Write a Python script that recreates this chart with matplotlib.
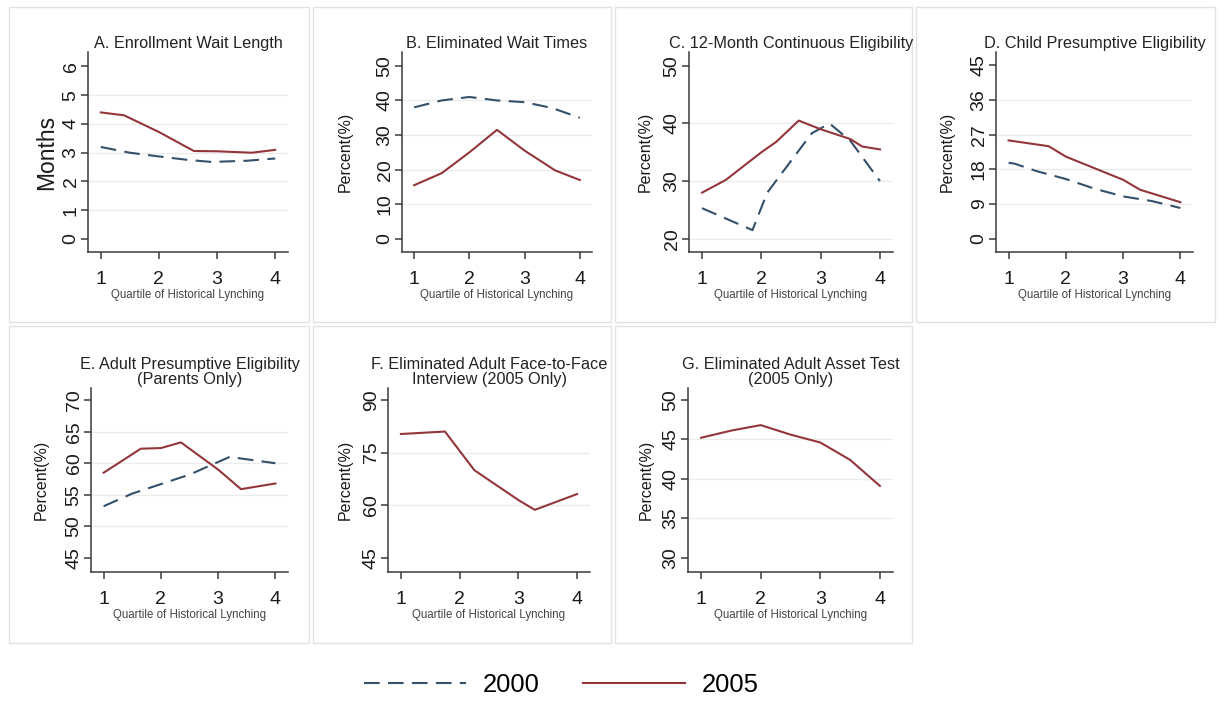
import matplotlib
matplotlib.use("Agg")
import matplotlib.pyplot as plt
from matplotlib.patches import Rectangle
from matplotlib.lines import Line2D

plt.rcParams['font.family'] = ['Liberation Sans', 'DejaVu Sans']

# ---------------- data ----------------
quartile_ticks = [1, 2, 3, 4]
xlabel_text = "Quartile of Historical Lynching"
series_names = ["2000", "2005"]

titles = {
    "A": "A. Enrollment Wait Length",
    "B": "B. Eliminated Wait Times",
    "C": "C. 12-Month Continuous Eligibility",
    "D": "D. Child Presumptive Eligibility",
    "E": "E. Adult Presumptive Eligibility\n(Parents Only)",
    "F": "F. Eliminated Adult Face-to-Face\nInterview (2005 Only)",
    "G": "G. Eliminated Adult Asset Test\n(2005 Only)",
}
ylabels = {"A": "Months", "B": "Percent(%)", "C": "Percent(%)", "D": "Percent(%)",
           "E": "Percent(%)", "F": "Percent(%)", "G": "Percent(%)"}

yticks_A = [0, 1, 2, 3, 4, 5, 6]
yticks_B = [0, 10, 20, 30, 40, 50]
yticks_C = [20, 30, 40, 50]
yticks_D = [0, 9, 18, 27, 36, 45]
yticks_E = [45, 50, 55, 60, 65, 70]
yticks_F = [45, 60, 75, 90]
yticks_G = [30, 35, 40, 45, 50]

grid_A = [1, 2, 3, 4, 5]
grid_B = [10, 20, 30, 40]
grid_C = [20, 30, 40]
grid_D = [9, 18, 27, 36]
grid_E = [50, 55, 60, 65]
grid_F = [60, 75]
grid_G = [35, 40, 45]

# Panel A: enrollment wait length (months)
x2000_A = [1, 1.5, 2, 2.5, 2.9, 3.5, 4]
y2000_A = [3.2, 3.0, 2.87, 2.75, 2.68, 2.72, 2.8]
x2005_A = [1, 1.4, 2.0, 2.6, 3.0, 3.6, 4.0]
y2005_A = [4.4, 4.3, 3.72, 3.06, 3.05, 3.0, 3.1]

# Panel B: eliminated wait times
x2000_B = [1, 1.5, 2, 2.5, 3, 3.5, 4]
y2000_B = [38, 40, 41, 40, 39.5, 37.8, 35]
x2005_B = [1, 1.5, 2, 2.5, 3, 3.55, 4]
y2005_B = [15.5, 19, 25, 31.5, 25.5, 19.8, 17]

# Panel C: 12-month continuous eligibility
x2000_C = [1, 1.85, 2.1, 2.5, 2.85, 3.15, 3.5, 4]
y2000_C = [25.3, 21.5, 28, 33.5, 38.3, 40, 37, 30]
x2005_C = [1, 1.4, 2, 2.25, 2.63, 3, 3.5, 3.7, 4]
y2005_C = [28, 30.2, 35, 36.8, 40.5, 39, 37.3, 36, 35.5]

# Panel D: child presumptive eligibility
x2000_D = [1, 1.1, 1.5, 2, 2.5, 3, 3.5, 4]
y2000_D = [19.7, 19.5, 17.5, 15.5, 13, 11, 9.8, 8]
x2005_D = [1, 1.7, 2, 2.5, 3, 3.3, 4]
y2005_D = [25.5, 24, 21.3, 18.3, 15.3, 12.7, 9.5]

# Panel E: adult presumptive eligibility (parents)
x2000_E = [1, 1.5, 2, 2.5, 3, 3.2, 4]
y2000_E = [53.2, 55.2, 56.7, 58.2, 60.2, 61, 60]
x2005_E = [1, 1.65, 2, 2.35, 3, 3.4, 4]
y2005_E = [58.5, 62.3, 62.4, 63.3, 59, 55.9, 56.8]

# Panel F: eliminated adult face-to-face interview (2005 only)
x2005_F = [1, 1.75, 2.25, 3, 3.28, 4]
y2005_F = [80.3, 81, 70, 61.5, 58.7, 63.2]

# Panel G: eliminated adult asset test (2005 only)
x2005_G = [1, 1.5, 2, 2.5, 3, 3.5, 4]
y2005_G = [45.2, 46.1, 46.8, 45.6, 44.6, 42.4, 39.1]

data = {
    "A": (x2000_A, y2000_A, x2005_A, y2005_A, yticks_A, grid_A),
    "B": (x2000_B, y2000_B, x2005_B, y2005_B, yticks_B, grid_B),
    "C": (x2000_C, y2000_C, x2005_C, y2005_C, yticks_C, grid_C),
    "D": (x2000_D, y2000_D, x2005_D, y2005_D, yticks_D, grid_D),
    "E": (x2000_E, y2000_E, x2005_E, y2005_E, yticks_E, grid_E),
    "F": (None, None, x2005_F, y2005_F, yticks_F, grid_F),
    "G": (None, None, x2005_G, y2005_G, yticks_G, grid_G),
}

# ---------------- layout (pixels) ----------------
W, H = 1225, 717
fig = plt.figure(figsize=(W / 100, H / 100), dpi=100)
fig.patch.set_facecolor("white")

frames = [(9, 309, 7, 322), (313, 611, 7, 322), (615, 912, 7, 322), (916, 1215, 7, 322),
          (9, 309, 326, 643), (313, 611, 326, 643), (615, 912, 326, 643)]
for (l, r, t, b) in frames:
    fig.patches.append(Rectangle((l / W, 1 - b / H), (r - l) / W, (b - t) / H,
                                 transform=fig.transFigure, facecolor="none",
                                 edgecolor="#e2e2e2", lw=1.0, zorder=-10))

boxes = {
    "A": (88, 288, 52, 252), "B": (402, 592, 52, 252), "C": (689, 893, 52, 252),
    "D": (996, 1193, 52, 252), "E": (91, 288, 388, 572), "F": (388, 590, 388, 572),
    "G": (688, 893, 388, 572),
}
ylims = {"A": (-0.45, 6.5), "B": (-3.8, 54.0), "C": (17.7, 52.4), "D": (-3.4, 48.4),
         "E": (42.8, 71.9), "F": (41.0, 93.4), "G": (28.2, 51.5)}
ylabel_x = {"A": -0.205, "B": -0.30, "C": -0.216, "D": -0.25, "E": -0.25, "F": -0.213, "G": -0.205}
ylabel_size = {"A": 16.5}

c2000 = "#34506a"
c2005 = "#93363c"
dash = (0, (7.5, 4))
axis_col = "#3a3a3a"

for key, (l, r, t, b) in boxes.items():
    ax = fig.add_axes([l / W, 1 - b / H, (r - l) / W, (b - t) / H])
    ax.set_facecolor("none")
    x0, y0, x5, y5, yt, gr = data[key]
    for g in gr:
        ax.axhline(g, color="#ececec", lw=1.0, zorder=0)
    if x0 is not None:
        ax.plot(x0, y0, color=c2000, lw=1.5, ls=dash, zorder=3)
    ax.plot(x5, y5, color=c2005, lw=1.5, zorder=4)
    ax.set_xlim(0.78, 4.22)
    ax.set_ylim(*ylims[key])
    ax.set_xticks(quartile_ticks)
    ax.set_yticks(yt)
    ax.tick_params(axis="both", direction="out", length=5, width=1.1, color=axis_col,
                   labelsize=14, labelcolor="#1a1a1a")
    ax.tick_params(axis="x", pad=8.5)
    ax.tick_params(axis="y", pad=1)
    for lab in ax.get_yticklabels():
        lab.set_rotation(90)
        lab.set_va("center")
    for s in ["top", "right"]:
        ax.spines[s].set_visible(False)
    for s in ["left", "bottom"]:
        ax.spines[s].set_color(axis_col)
        ax.spines[s].set_linewidth(1.1)
    ax.set_xlabel(xlabel_text, fontsize=8.3, color="#444444", labelpad=1)
    ax.set_ylabel(ylabels[key], fontsize=ylabel_size.get(key, 11.5), color="#1a1a1a",
                  va="center")
    ax.yaxis.set_label_coords(ylabel_x[key], 0.5)
    ax.set_title(titles[key], fontsize=11.7, color="#222222", pad=3, linespacing=1.0)

handles = [Line2D([], [], color=c2000, lw=1.5, ls=dash),
           Line2D([], [], color=c2005, lw=1.5)]
fig.legend(handles, series_names, loc="center", bbox_to_anchor=(561 / W, 1 - 685 / H),
           ncol=2, frameon=False, fontsize=18.4, handlelength=4.0,
           handletextpad=0.64, columnspacing=1.7)

fig.savefig("out.png", dpi=100, facecolor="white")
